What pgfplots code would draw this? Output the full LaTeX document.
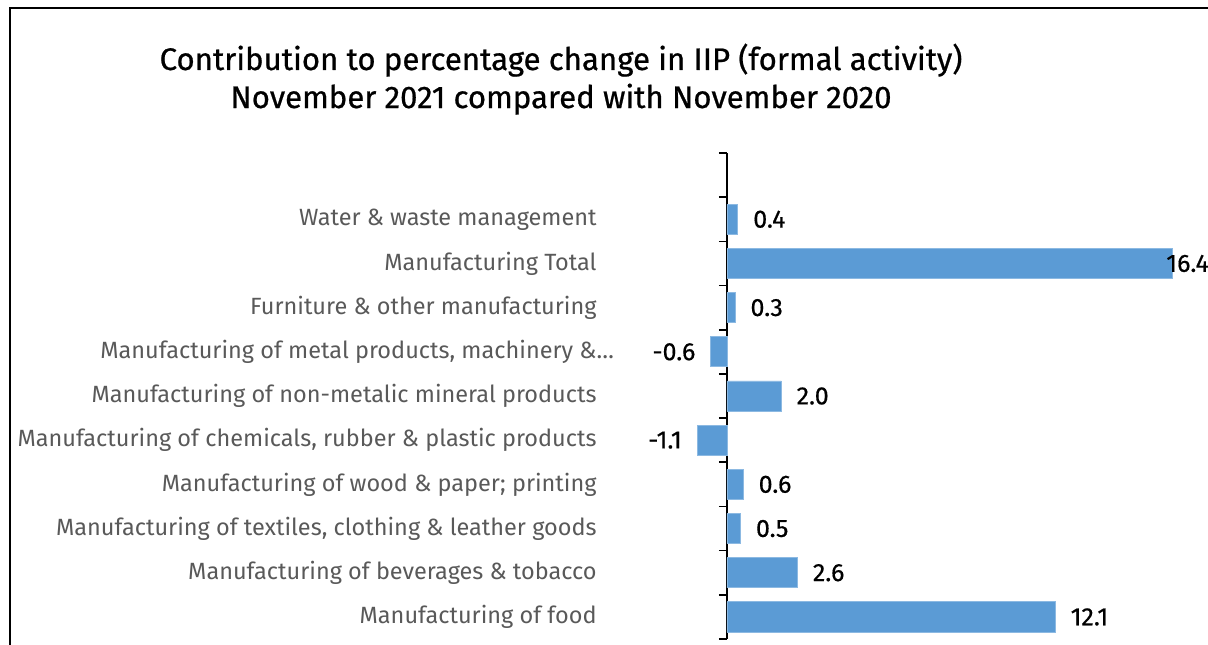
\documentclass[border=0pt]{standalone}
\usepackage{pgfplots}
\pgfplotsset{compat=1.18}
\usepackage{fontspec}
\setmainfont{Fira Sans}
\newfontfamily\titlefont{Fira Sans}[FakeBold=0.7]
\newfontfamily\valfont{Fira Sans}[FakeBold=0.5]
\definecolor{barblue}{HTML}{5B9BD5}
\definecolor{labelgray}{HTML}{595959}
\begin{document}
\begin{tikzpicture}[x=0.5pt,y=0.5pt]
\path[use as bounding box] (0,0) rectangle (1208,644);
\draw[line width=1.1pt] (10,-5) -- (10,636) -- (1215,636);
\node[anchor=base, font=\titlefont\fontsize{15.6}{18}\selectfont] at (561,574) {Contribution to percentage change in IIP (formal activity)};
\node[anchor=base, font=\titlefont\fontsize{15.6}{18}\selectfont] at (561,536) {November 2021 compared with November 2020};
\begin{axis}[
  at={(343.15pt,2.5pt)}, anchor=south west,
  scale only axis, width=250.95pt, height=243pt,
  xmin=-1.5, xmax=17, ymin=-0.5, ymax=10.5,
  axis x line=none, axis y line=center,
  y axis line style={-, line width=0.8pt},
  xbar, bar width=0.68, bar shift=0pt,
  ytick={0,...,9},
  yticklabels={Manufacturing of food, Manufacturing of beverages \& tobacco, {Manufacturing of textiles, clothing \& leather goods}, Manufacturing of wood \& paper; printing, {Manufacturing of chemicals, rubber \& plastic products}, Manufacturing of non-metalic mineral products, {Manufacturing of metal products, machinery \&\rlap{…}}, Furniture \& other manufacturing\ , Manufacturing Total, Water \& waste management},
  major tick length=0pt,
  minor ytick={-0.5,0.5,...,10.5},
  minor tick length=4pt,
  tick style={line width=0.8pt, black},
  tick align=outside,
  yticklabel style={anchor=east, inner sep=0pt, xshift=-65pt, font=\fontsize{11.75}{14}\selectfont, text=labelgray},
  nodes near coords,
  nodes near coords style={font=\valfont\fontsize{12.5}{14}\selectfont, text=black, inner xsep=7.5pt, /pgf/number format/fixed, /pgf/number format/fixed zerofill, /pgf/number format/precision=1, /pgf/number format/assume math mode=true},
  clip=false,
]
\addplot[fill=barblue, draw=barblue!70!white, line width=0.4pt] coordinates {
(12.1,0) (2.6,1) (0.5,2) (0.6,3) (-1.1,4) (2.0,5) (-0.6,6) (0.3,7) (0.4,9)};
\addplot[fill=barblue, draw=barblue!70!white, line width=0.4pt, nodes near coords style={xshift=-10.5pt}] coordinates {
(16.4,8)};
\end{axis}
\end{tikzpicture}
\end{document}
